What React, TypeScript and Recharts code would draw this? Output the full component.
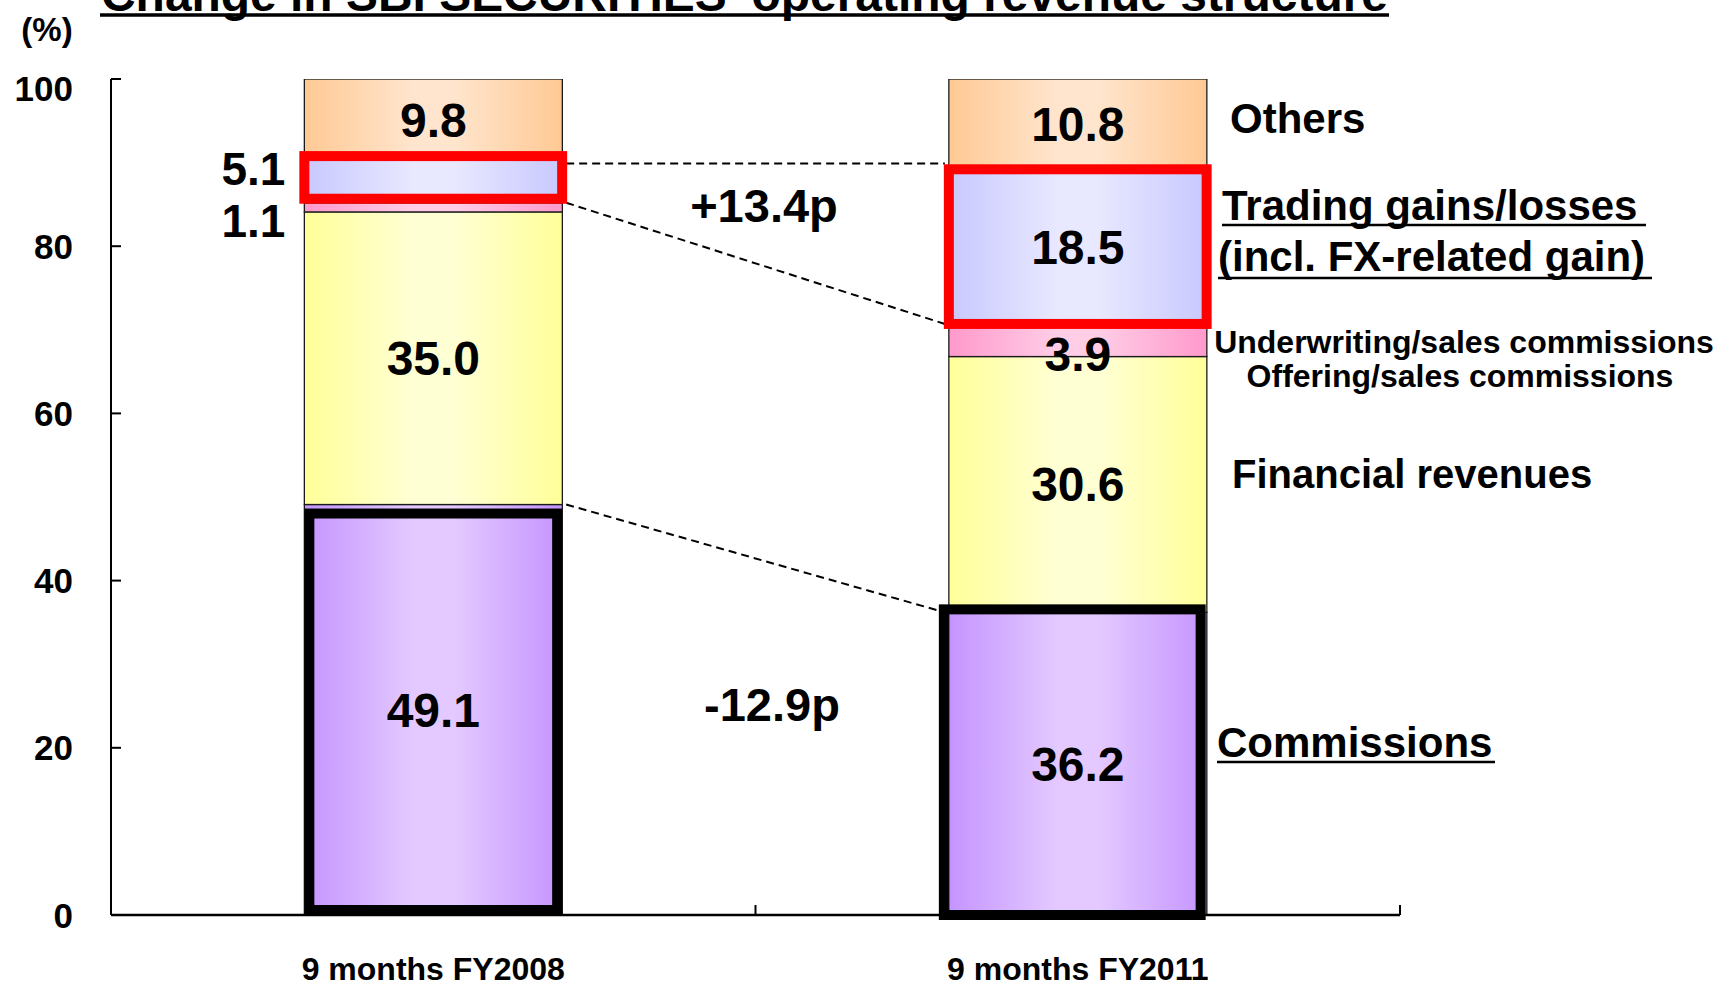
import React from 'react';
import { BarChart, Bar, XAxis, YAxis, LabelList, ReferenceArea, ReferenceLine } from 'recharts';

// ---------- data ----------
const categories = ['9 months FY2008', '9 months FY2011'];
const commissions = [49.1, 36.2];
const financialRevenues = [35.0, 30.6];
const underwriting = [1.1, 3.9];
const trading = [5.1, 18.5];
const others = [9.8, 10.8];
const yTicks = [0, 20, 40, 60, 80, 100];

const titleText = "Change in SBI SECURITIES' operating revenue structure";

// ---------- layout ----------
const W = 1724;
const H = 993;
const MARGIN = { top: 79, right: 324, bottom: 0, left: 0 };
const Y_AXIS_W = 111;
const X_AXIS_H = 78;
const PLOT_W = W - MARGIN.right - Y_AXIS_W;
const BAND = PLOT_W / categories.length;
const GAP = 0.3; // barCategoryGap fraction
const INSET = BAND * (0.5 - GAP) ; // distance from band centre to bar edge

const FONT = '"Liberation Sans", Arial, Helvetica, sans-serif';

const data = categories.map((c, i) => ({
  name: c,
  commissions: commissions[i],
  financial: financialRevenues[i],
  underwriting: underwriting[i],
  trading: trading[i],
  others: others[i],
}));

const gradients: Record<string, [string, string]> = {
  commissions: ['#C594FF', '#E3C9FF'],
  financial: ['#FFFF99', '#FFFFD4'],
  underwriting: ['#FF99CC', '#FFCDE6'],
  trading: ['#C8C8FF', '#E8E8FF'],
  others: ['#FFC994', '#FFE5CD'],
};

const seriesKeys = ['commissions', 'financial', 'underwriting', 'trading', 'others'];
const seriesArrays: Record<string, number[]> = {
  commissions,
  financial: financialRevenues,
  underwriting,
  trading,
  others,
};

const makeShape = (key: string) => (props: any) => {
  const { x, y, width, height } = props;
  if (!height || height <= 0) return <g />;
  return (
    <rect
      x={x}
      y={y}
      width={width}
      height={height}
      fill={`url(#grad-${key})`}
      stroke="#1a1a1a"
      strokeWidth={1.3}
    />
  );
};

const makeLabel = (key: string) => (props: any) => {
  const vb = props.viewBox || props;
  const x = vb.x ?? props.x;
  const y = vb.y ?? props.y;
  const width = vb.width ?? props.width;
  const height = vb.height ?? props.height;
  const { value, index } = props;
  if (value == null) return <g />;
  const txt = Number(value).toFixed(1);
  const cy = y + height / 2;
  if (index === 0 && (key === 'trading' || key === 'underwriting')) {
    const dy = key === 'trading' ? 4 : 30;
    return (
      <text x={x - 19} y={cy + dy} textAnchor="end" fontFamily={FONT} fontWeight="bold" fontSize={46} fill="#000">
        {txt}
      </text>
    );
  }
  const extra = index === 1 && key === 'underwriting' ? 14 : 0;
  return (
    <text x={x + width / 2} y={cy + 17 + extra} textAnchor="middle" fontFamily={FONT} fontWeight="bold" fontSize={48} fill="#000">
      {txt}
    </text>
  );
};

const YTick = (props: any) => {
  const { x, y, payload } = props;
  const dy = payload.value === 100 ? 9 : 0;
  return (
    <g>
      <line x1={x} x2={x + 10} y1={y} y2={y} stroke="#000" strokeWidth={2} />
      <text x={x - 38} y={y + 12.5 + dy} textAnchor="end" fontFamily={FONT} fontWeight="bold" fontSize={35} fill="#000">
        {payload.value}
      </text>
    </g>
  );
};

const XTick = (props: any) => {
  const { x, y, payload } = props;
  return (
    <g>
      <line x1={x + BAND / 2} x2={x + BAND / 2} y1={y} y2={y - 10} stroke="#000" strokeWidth={2} />
      <text x={x} y={y + 65} textAnchor="middle" fontFamily={FONT} fontWeight="bold" fontSize={32} fill="#000">
        {payload.value}
      </text>
    </g>
  );
};

const cumBelow = (key: string, i: number) => {
  let s = 0;
  for (const k of seriesKeys) {
    if (k === key) break;
    s += seriesArrays[k][i];
  }
  return s;
};
const cumTop = (key: string, i: number) => cumBelow(key, i) + seriesArrays[key][i];

// ReferenceArea over a whole band -> shrink to the bar's width
const barBox = (props: any) => {
  const { x, y, width, height } = props;
  const bx = x + width * GAP;
  const bw = width * (1 - 2 * GAP);
  return { bx, by: y, bw, bh: height };
};

const blackBoxShape = (i: number) => (props: any) => {
  const { bx, by, bw, bh } = barBox(props);
  if (i === 0) {
    return <rect x={bx + 5} y={by + 9} width={bw - 10} height={bh - 14} fill="none" stroke="#000" strokeWidth={10} />;
  }
  return <rect x={bx - 5} y={by - 3} width={bw - 1} height={bh + 3} fill="none" stroke="#000" strokeWidth={10} />;
};

const redBoxShape = (i: number) => (props: any) => {
  const { bx, by, bw, bh } = barBox(props);
  const dy = i === 0 ? -4 : 0;
  return <rect x={bx} y={by + dy} width={bw} height={bh} fill="none" stroke="#FF0000" strokeWidth={10} />;
};

// ReferenceLine between band centres -> shorten to bar edges
const connectorShape = (props: any) => {
  const { x1, y1, x2, y2 } = props;
  return (
    <line
      x1={x1 + INSET + 4}
      y1={y1}
      x2={x2 - INSET - 4}
      y2={y2}
      stroke="#000"
      strokeWidth={2}
      strokeDasharray="8 5"
    />
  );
};

const fmtDiff = (d: number) => `${d > 0 ? '+' : '-'}${Math.abs(d).toFixed(1)}p`;

export default function App() {
  const tradingDiff = trading[1] - trading[0];
  const commDiff = commissions[1] - commissions[0];
  return (
    <div style={{ position: 'absolute', left: 0, top: 0, width: W, height: H, background: '#fff' }}>
      <svg width={0} height={0} style={{ position: 'absolute' }}>
        <defs>
          {seriesKeys.map((k) => (
            <linearGradient key={k} id={`grad-${k}`} x1="0" y1="0" x2="1" y2="0">
              <stop offset="0" stopColor={gradients[k][0]} />
              <stop offset="0.42" stopColor={gradients[k][1]} />
              <stop offset="0.58" stopColor={gradients[k][1]} />
              <stop offset="1" stopColor={gradients[k][0]} />
            </linearGradient>
          ))}
        </defs>
      </svg>
      <div style={{ position: 'absolute', left: 0, top: 0 }}>
        <BarChart width={W} height={H} data={data} margin={MARGIN} barCategoryGap={`${GAP * 100}%`}>
          <XAxis
            dataKey="name"
            height={X_AXIS_H}
            axisLine={{ stroke: '#000', strokeWidth: 2.5 }}
            tickLine={false}
            tickSize={0}
            tickMargin={0}
            tick={<XTick />}
            interval={0}
          />
          <YAxis
            width={Y_AXIS_W}
            domain={[0, 100]}
            allowDataOverflow
            ticks={yTicks}
            axisLine={{ stroke: '#000', strokeWidth: 2 }}
            tickLine={false}
            tickSize={0}
            tickMargin={0}
            tick={<YTick />}
          />
          {seriesKeys.map((k) => (
            <Bar key={k} dataKey={k} stackId="a" isAnimationActive={false} shape={makeShape(k)}>
              <LabelList dataKey={k} content={makeLabel(k)} />
            </Bar>
          ))}
          {categories.map((c, i) => (
            <ReferenceArea
              key={`bb-${i}`}
              x1={c}
              x2={c}
              y1={cumBelow('commissions', i)}
              y2={cumTop('commissions', i)}
              ifOverflow="visible"
              zIndex={1500}
              shape={blackBoxShape(i)}
            />
          ))}
          {categories.map((c, i) => (
            <ReferenceArea
              key={`rb-${i}`}
              x1={c}
              x2={c}
              y1={cumBelow('trading', i)}
              y2={cumTop('trading', i)}
              ifOverflow="visible"
              zIndex={1500}
              shape={redBoxShape(i)}
            />
          ))}
          <ReferenceLine
            segment={[
              { x: categories[0], y: cumTop('trading', 0) - 0.4 },
              { x: categories[1], y: cumTop('trading', 0) - 0.4 },
            ]}
            ifOverflow="visible"
            zIndex={1400}
            shape={connectorShape}
          />
          <ReferenceLine
            segment={[
              { x: categories[0], y: cumBelow('trading', 0) },
              { x: categories[1], y: cumBelow('trading', 1) },
            ]}
            ifOverflow="visible"
            zIndex={1400}
            shape={connectorShape}
          />
          <ReferenceLine
            segment={[
              { x: categories[0], y: cumTop('commissions', 0) },
              { x: categories[1], y: cumTop('commissions', 1) },
            ]}
            ifOverflow="visible"
            zIndex={1400}
            shape={connectorShape}
          />
        </BarChart>
      </div>
      <svg
        width={W}
        height={H}
        style={{ position: 'absolute', left: 0, top: 0, pointerEvents: 'none' }}
        fontFamily={FONT}
        fontWeight="bold"
      >
        <text x={101} y={11} fontSize={48} textLength={1287} lengthAdjust="spacingAndGlyphs" fill="#000">
          {titleText}
        </text>
        <line x1={100} x2={1389} y1={15} y2={15} stroke="#000" strokeWidth={3.5} />
        <text x={47} y={41} fontSize={33} textAnchor="middle" fill="#000">(%)</text>

        <text x={1230} y={133} fontSize={42} fill="#000">Others</text>

        <text x={1222} y={220} fontSize={42} fill="#000">Trading gains/losses</text>
        <line x1={1222} x2={1646} y1={225} y2={225} stroke="#000" strokeWidth={2.5} />
        <text x={1218} y={271} fontSize={42} fill="#000">(incl. FX-related gain)</text>
        <line x1={1218} x2={1652} y1={278} y2={278} stroke="#000" strokeWidth={2.5} />

        <text x={1464} y={353} fontSize={32} textAnchor="middle" fill="#000">Underwriting/sales commissions</text>
        <text x={1460} y={387} fontSize={32} textAnchor="middle" fill="#000">Offering/sales commissions</text>

        <text x={1232} y={488} fontSize={40} fill="#000">Financial revenues</text>

        <text x={1217} y={757} fontSize={42} fill="#000">Commissions</text>
        <line x1={1217} x2={1495} y1={762} y2={762} stroke="#000" strokeWidth={2.5} />

        <text x={764} y={222} fontSize={47} textAnchor="middle" fill="#000">{fmtDiff(tradingDiff)}</text>
        <text x={772} y={721} fontSize={47} textAnchor="middle" fill="#000">{fmtDiff(commDiff)}</text>
      </svg>
    </div>
  );
}
